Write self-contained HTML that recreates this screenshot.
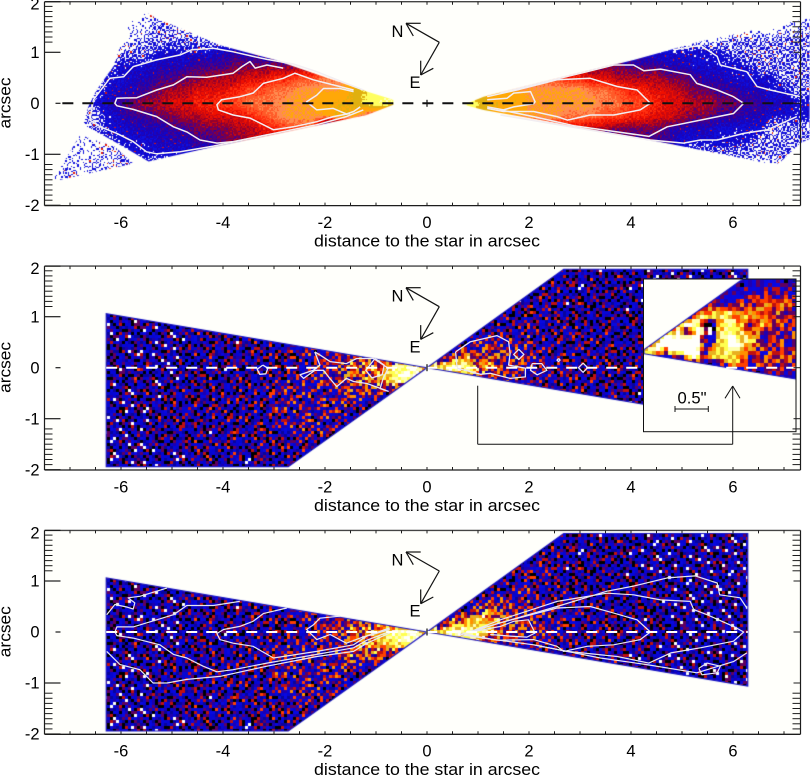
<!DOCTYPE html>
<html lang="en">
<head>
<meta charset="utf-8">
<title>Disk surface brightness maps</title>
<style>
html,body{margin:0;padding:0;background:#fff;}
#figure{position:relative;width:810px;height:777px;overflow:hidden;font-family:"Liberation Sans",sans-serif;}
.plot-bg{position:absolute;background:#fffffb;}
canvas{position:absolute;}
svg{position:absolute;left:0;top:0;}
svg text{font-family:"Liberation Sans",sans-serif;fill:#000;}
</style>
</head>
<body>
<div id="figure"></div>
<script>
/* ---------- data: grid levels (hex 0-f). Columns x=-7.5..7.5 step .25, rows y=2..-2 step .25 ---------- */
const panel1Levels = [
"0000000000 0000000000 0000000000 0 0000000000 0000000000 0000000000",
"0000000011 1100000000 0000000000 0 0000000000 0000000000 0000000011",
"0000000112 2110000000 0000000000 0 0000000000 0000000000 0000000112",
"0000000122 2222111000 0000000000 0 0000000000 0000000000 1112222222",
"1111112223 3333444333 3300000000 0 0000000000 0000033333 3332222222",
"1111123334 4455566666 6666600000 0 0000000000 6666655544 3333322222",
"1111233445 5667778899 aabbbbb000 0 0000aaaaaa 9988777766 5443333222",
"1112234456 778889aabb ccccdeefff f ffedcccccc ccbba99887 6655443322",
"1112345677 8899aabbbc ccdddeffff f fffedddccc cccbbaa988 7766554433",
"1112234556 6778889abc cccddba800 0 fffedccccc bbbaa99887 6655443333",
"1111233444 556667789a ab00000000 0 0000088888 8877666654 4433332222",
"1111123334 4455667777 0000000000 0 0000000000 0000555553 3333322222",
"1111112333 3333300000 0000000000 0 0000000000 0000000002 2222222222",
"1111212121 2100000000 0000000000 0 0000000000 0000000000 0000000210",
"1121110000 0000000000 0000000000 0 0000000000 0000000000 0000000000",
"0000000000 0000000000 0000000000 0 0000000000 0000000000 0000000000",
"0000000000 0000000000 0000000000 0 0000000000 0000000000 0000000000"
];
const panel2Levels = [
"5555555555 5555555555 5555555555 5 5555555555 5555555555 5555555555",
"5555555555 5555555555 5555555555 5 5555555556 6565655555 5555555555",
"5555555555 5555555555 5555555555 5 5555555566 6565655555 5555555555",
"5555555555 5555555555 5555555555 5 5555555666 5656555555 5555555555",
"5555555555 5565555565 5555555555 5 5555566666 6565656555 5555555555",
"5555555555 5566656566 6555555555 5 5555666766 6656565655 5555555555",
"5555555555 5565656666 7777555555 5 5557877766 6666656555 5555555555",
"5555565555 5566566666 7788999755 5 58b9a98776 6666565655 5555555555",
"5555565665 5656565666 6789abbdff d effcb98776 7666666565 5555555555",
"5555555655 5566566667 7789aabdff 8 99a9887766 6666566555 5555555555",
"5555555565 6656666677 7778998655 5 5555776666 6665655555 5555555555",
"5555555555 6566666677 7777765555 5 5555555555 5666656555 5555555555",
"5555555556 6656666667 7777655555 5 5555555555 5555555555 5555555555",
"5555555556 5665666667 7776555555 5 5555555555 5555555555 5555555555",
"5555555555 6566666666 6655555555 5 5555555555 5555555555 5555555555",
"5555555555 5566565666 6555555555 5 5555555555 5555555555 5555555555",
"5555555555 5555555555 5555555555 5 5555555555 5555555555 5555555555"
];
const panel3Levels = [
"5555555555 5555555555 5555555555 5 5555555555 5555555555 5555555555",
"5555555555 5555555555 5555555555 5 5555555556 6565655555 5555555555",
"5555555555 5555555555 5555555555 5 5555555666 6565655555 5555555555",
"5555555555 5555555555 5555555555 5 5555556676 5656555555 5555555555",
"5555555555 5565555565 5555555555 5 5555566766 6565656555 5555555555",
"5555555555 5566656566 6555555555 5 5555667766 6656565655 5555555555",
"5555555555 5565656666 7777655555 5 5558a98776 6666656555 5555555555",
"5555565555 5566566666 7788a99755 5 5abdca9877 6666565655 5555555555",
"5555565665 5656565666 6789abceff d dfffca9887 7666666565 5555555555",
"5555555655 5566566667 77789bcdef 9 abca988776 6666566555 5555555555",
"5555555565 6656666677 7778a9a755 5 5555776666 6665655555 5555555555",
"5555555555 6566666677 7777765555 5 5555555555 5666656555 5555555555",
"5555555556 6656666667 7777655555 5 5555555555 5555555555 5555555555",
"5555555556 5665666667 7776555555 5 5555555555 5555555555 5555555555",
"5555555555 6566666666 6655555555 5 5555555555 5555555555 5555555555",
"5555555555 5566565666 6555555555 5 5555555555 5555555555 5555555555",
"5555555555 5555555555 5555555555 5 5555555555 5555555555 5555555555"
];
/* inset grid: offsets from the star 0..2.3 step .1, rows 1.1..-.5 step .1 */
const insetLevels = [
"555555555555555565656556",
"555555555555555565756565",
"555555555555556567686776",
"555555555555566579897888",
"555555555578767889aa9a98",
"555555558abc9cbaaba9a987",
"55555559ddccdcabaa9a8987",
"555559ffe509cdca8aba9887",
"55559f56ff0bdccb9a878687",
"559ffffff60cdfebca689788",
"59fffffff76ccffcc9879879",
"fff6fffff6ccddcaa8798989",
"5555559ed6bcccc979889898",
"5555555555557aba78898988",
"555555555555555556787878",
"555555555555555555555555",
"555555555555555555555555"
];
/* footprint outlines, arcsec */
const panel1Footprints = [
 [[-.66,.07],[-1.18,.23],[-3.01,.86],[-4.06,1.14],[-5.3,1.67],[-5.79,1.93],[-6.18,1.9],[-5.95,1.31],[-6.15,.72],[-6.48,.26],[-6.64,-.07],[-6.74,-.42],[-6.48,-.56],[-6.08,-.78],[-5.46,-1.14],[-4.19,-.85],[-1.18,-.23],[-.66,-.03]],
 [[-6.8,-.62],[-6.12,-.85],[-5.76,-1.18],[-7.36,-1.54]],
 [[.72,-.03],[1.11,.13],[4.05,.85],[5.36,1.21],[7.32,1.63],[7.5,1.67],[7.5,-.7],[7.32,-.78],[6.9,-1.18],[6.7,-1.18],[4.38,-.72],[2.75,-.42],[1.11,-.13]]
];
const wedgeFootprints = [
 [[0,0],[-6.29,1.06],[-6.29,-1.94],[-2.72,-1.94]],
 [[0,0],[2.68,1.93],[6.29,1.93],[6.29,-1.06]]
];
const insetFootprints = [
 [[0,.02],[1.44,1.05],[1.5,1.08],[2.28,1.08],[2.28,-.42],[0,-.04]]
];
/* contours, arcsec: each is a list of [x,y] */
const panel1Contours = [
 [[-1.25,.26],[-1.58,.39],[-2.16,.62],[-2.62,.77],[-3.14,.86],[-3.41,.92],[-3.8,1.01],[-4.19,1.08],[-4.61,1.05],[-4.84,.95],[-5.3,.85],[-5.76,.72],[-5.95,.52],[-6.22,.49],[-6.54,.07],[-6.61,-.33],[-6.41,-.46],[-6.08,-.59],[-5.76,-.75],[-5.5,-.95],[-5.3,-.99],[-4.84,-.95],[-4.19,-.84],[-3.14,-.62],[-2.16,-.42],[-1.58,-.26],[-1.25,-.13]],
 [[-2.82,.69],[-3.14,.75],[-3.37,.69],[-3.47,.82],[-3.63,.72],[-3.8,.59],[-4.32,.51],[-4.71,.52],[-4.97,.36],[-5.3,.26],[-5.69,.11],[-6.08,.1],[-6.12,0],[-6.08,-.05],[-5.76,-.12],[-5.3,-.26],[-4.97,-.46],[-4.71,-.56],[-4.45,-.72],[-4.12,-.78],[-3.8,-.75],[-3.14,-.62]],
 [[-1.44,.26],[-1.84,.36],[-2.23,.46],[-2.59,.59],[-2.82,.49],[-3.21,.39],[-3.41,.2],[-3.67,.13],[-4.03,.07],[-4.12,-.03],[-4.09,-.13],[-3.8,-.23],[-3.47,-.29],[-3.01,-.52],[-2.62,-.46],[-2.16,-.36],[-1.84,-.26],[-1.51,-.2]],
 [[-1.44,.23],[-1.71,.29],[-2.03,.29],[-2.16,.16],[-2.36,.03],[-2.16,-.13],[-1.84,-.1],[-1.58,-.21],[-1.44,-.16],[-1.31,-.07]],
 [[1.44,.2],[2.48,.46],[3.14,.62],[3.66,.75],[4.05,.75],[4.25,.64],[4.58,.67],[5.16,.56],[5.29,.39],[5.69,.26],[6.01,.13],[6.21,0],[6.01,-.2],[5.36,-.33],[4.71,-.46],[4.35,-.65],[3.73,-.56],[2.88,-.44],[2.09,-.26],[1.44,-.13]],
 [[1.18,.13],[1.76,.26],[2.55,.46],[3.2,.49],[3.73,.33],[4.12,.26],[4.38,0],[4.18,-.13],[3.66,-.23],[3.2,-.23],[2.75,-.33],[2.55,-.26],[2.09,-.16],[1.5,-.16],[1.18,-.1]],
 [[1.18,.07],[1.57,.1],[1.7,.2],[2.03,.23],[2.12,.03],[2.09,-.01],[1.7,-.07],[1.5,-.13],[1.18,-.07]],
 [[4.84,1.05],[5.36,1.14],[5.69,.92],[5.75,.75],[6.27,.62],[6.47,.33],[6.73,.26],[7.32,.13]],
 [[7.25,-.26],[6.67,-.52],[6.21,-.59],[5.69,-.72],[5.36,-.72],[5.03,-.78],[4.38,-.72],[3.4,-.56],[1.44,-.23]]
];
const panel2Contours = [
 [[-2.2,.31],[-2.1,.25],[-1.9,.12],[-1.58,.08],[-1.38,.18],[-1.05,.18],[-.76,-.01],[-.86,-.21],[-.92,-.41],[-.76,-.46],[-1.18,-.31],[-1.44,-.27],[-1.58,-.21],[-1.77,-.37],[-1.93,-.18],[-2.03,-.05],[-2.2,-.05],[-2.42,-.21],[-2.49,-.14],[-2.23,-.05],[-2.1,.05],[-2.2,.31]],
 [[-3.22,.05],[-3.12,-.01],[-3.16,-.12],[-3.28,-.13],[-3.33,-.03],[-3.22,.05]],
 [[-1.02,.18],[-.84,.05],[-.88,-.14],[-1.08,-.2],[-1.2,-.05],[-1.02,.18]],
 [[.56,.31],[.85,.51],[1.37,.63],[1.6,.51],[1.63,.28],[1.6,.05],[1.93,-.01],[1.93,-.18],[1.63,-.21],[1.24,-.11],[1.05,-.13],[.59,-.01],[.56,.31]],
 [[2.06,.08],[2.25,.08],[2.35,-.05],[2.16,-.14],[2.03,-.05],[2.06,.08]],
 [[3.06,.09],[3.15,0],[3.06,-.09],[2.97,0],[3.06,.09]],
 [[1.8,.36],[1.9,.26],[1.8,.16],[1.7,.26],[1.8,.36]],
 [[2.58,.18],[2.61,.15],[2.58,.12],[2.55,.15],[2.58,.18]]
];
const panel3Contours = [
 [[-5.1,.86],[-5.63,.7],[-5.86,.67],[-5.73,.57],[-5.76,.45],[-5.89,.49],[-6.12,.54],[-6.28,.34]],
 [[-6.28,-.38],[-6.02,-.64],[-5.63,-.74],[-5.37,-1],[-5.1,-1],[-4.71,-.93],[-4.06,-.87],[-3.14,-.67],[-2.16,-.48],[-1.44,-.38],[-1.18,-.22],[-.73,-.02]],
 [[-3.67,.6],[-4.19,.52],[-4.71,.52],[-4.97,.34],[-5.3,.24],[-5.76,.1],[-6.08,.1],[-6.12,0],[-6.08,-.07],[-5.76,-.12],[-5.24,-.25],[-4.97,-.44],[-4.71,-.51],[-4.39,-.67],[-4.12,-.78],[-3.8,-.74],[-3.14,-.61],[-2.16,-.44],[-1.44,-.31],[-1.18,-.16],[-.73,.01]],
 [[-2.75,.47],[-3.21,.36],[-3.41,.21],[-3.67,.11],[-3.99,.05],[-4.12,-.03],[-4.06,-.15],[-3.8,-.22],[-3.41,-.28],[-3.01,-.51],[-2.16,-.38],[-1.44,-.25],[-1.18,-.08],[-.73,.05]],
 [[-1.71,.31],[-2.1,.27],[-2.23,.14],[-2.36,.05],[-2.16,-.15],[-1.9,-.05],[-1.58,-.22],[-1.31,-.12],[-.73,.08]],
 [[.65,-.05],[1.44,.18],[2.55,.5],[3.53,.8],[4.05,.9],[4.71,1.06],[5.26,1.1],[5.69,.96],[5.74,.73],[6.14,.67],[6.27,.47]],
 [[6.27,-.41],[6.01,-.58],[5.29,-.8],[4.31,-.64],[3.4,-.51],[2.09,-.25],[1.11,-.12],[.65,-.05]],
 [[.78,-.02],[1.44,.24],[2.55,.6],[3.53,.76],[4.05,.73],[4.58,.63],[5.16,.6],[5.23,.44],[5.49,.34],[6.01,.11],[6.21,0],[6.01,-.18],[5.36,-.31],[4.78,-.41],[4.35,-.61],[3.73,-.48],[2.75,-.38],[2.09,-.25]],
 [[.78,-.02],[1.44,.18],[2.55,.47],[3.2,.5],[3.66,.37],[4.12,.24],[4.38,0],[4.18,-.15],[3.66,-.25],[3.14,-.28],[2.68,-.38],[2.55,-.28],[2.09,-.15],[1.37,-.16],[.78,-.05]],
 [[.78,-.02],[1.44,.11],[1.7,.21],[1.99,.24],[2.12,-.02],[1.96,-.1],[1.63,-.08],[1.24,-.05]],
 [[5.33,-.71],[5.49,-.61],[5.75,-.67],[5.69,-.8],[5.39,-.84],[5.33,-.71]]
];
const xTickLabels = [-6,-4,-2,0,2,4,6];
const yTickLabels = [2,1,0,-1,-2];
const xTitleText = "distance to the star in arcsec";
const yTitleText = "arcsec";

/* ---------- style: colour ramps and a fixed halftone tile used only to texture cell levels ---------- */
const rampSmooth = [null,null,"#1010dc","#1006cc","#2402a8","#500080","#900030","#c80810","#f01000","#ff3010","#ff5a28","#ff8c50","#ffa808","#e0b010","#ffff60","#ffffc0"];
const rampNoisy = [null,"#000000","#000000","#0606d8","#0808e0","#0606d0","#08049c","#1c00b0","#600060","#c01010","#ff4000","#ff9000","#e8b020","#ffff50","#ffffb0","#fffffb"];
const rampInset = [null,"#000000","#000000","#0808e0","#0808e8","#0c06d8","#2000b0","#600060","#c01010","#ff4000","#ff9000","#e8b020","#ffff50","#ffffb0","#fffffb","#fffffb"];
const halftone = ["3a7f0c92e6b1d458","e15b84d07f2ac369","96c23fa51e8d074b","0d48e7b6c392fa15","b2f9165d04a7e83c","7c30ea8b2f6159d4","451ed9c7b80a36f2","a86f37024de9c1b5","2eb4905cf17d68a3","d7163ca8e5b042f9","f09ab26417c3de58","1c85df3b96ea2074","6b3e8104ad5f97c2","9472cfe06b381da5","c8ad5971f2047e3b","50e1b6d8437ca92f"];

/* ---------- axis functions ---------- */
const X_ZERO = 427, UNIT = 51, Y_ZERO = 103.3;
const panelShift = [0, 264.4, 528.7];
const xPx = v => X_ZERO + UNIT * v;
const yPx = (p, v) => Y_ZERO + panelShift[p] - UNIT * v;
const PLOT_L = 44.5, PLOT_R = 800.5, PLOT_T = 1.7, PLOT_B = 205.6;

const fig = document.getElementById('figure');
const NS = 'http://www.w3.org/2000/svg';

function gridLevel(rows, col, row) {
  const c0 = Math.max(0, Math.floor(col)), r0 = Math.max(0, Math.floor(row));
  const r1 = Math.min(rows.length - 1, r0 + 1), r00 = Math.min(rows.length - 1, r0);
  const fc = col - c0, fr = row - r0;
  const at = (r, c) => { const n = parseInt(rows[r].replace(/ /g, '').charAt(c), 16); return isNaN(n) ? 0 : n; };
  return (at(r00, c0) * (1 - fc) + at(r00, c0 + 1) * fc) * (1 - fr) + (at(r1, c0) * (1 - fc) + at(r1, c0 + 1) * fc) * fr;
}

function paintHeat(opts) {
  const cv = document.createElement('canvas');
  
  
  cv.width = opts.w; cv.height = opts.h;
  cv.style.left = opts.left + 'px'; cv.style.top = opts.top + 'px';
  fig.appendChild(cv);
  const ctx = cv.getContext('2d');
  if (opts.fill) { ctx.fillStyle = opts.fill; ctx.fillRect(0, 0, opts.w, opts.h); }
  const trace = () => {
    ctx.beginPath();
    opts.footprints.forEach(poly => {
      poly.forEach((pt, i) => {
        const px = opts.toPx(pt[0], pt[1]);
        if (i === 0) ctx.moveTo(px[0] - opts.left, px[1] - opts.top);
        else ctx.lineTo(px[0] - opts.left, px[1] - opts.top);
      });
      ctx.closePath();
    });
  };
  ctx.save();
  trace();
  ctx.clip();
  const b = opts.block;
  for (let by = 0; by * b < opts.h; by++) {
    const py0 = Math.round(by * b), py1 = Math.round((by + 1) * b);
    for (let bx = 0; bx * b < opts.w; bx++) {
      const px0 = Math.round(bx * b), px1 = Math.round((bx + 1) * b);
      const cell = opts.toCell(opts.left + (bx + .5) * b, opts.top + (by + .5) * b);
      if (cell[0] < 0 || cell[1] < 0) continue;
      const v = gridLevel(opts.levels, cell[0], cell[1]);
      const tx = (bx + 5 * Math.floor(by / 16) + 7 * Math.floor(bx / 32)) % 16;
      const ty = (by + 3 * Math.floor(bx / 16) + 11 * Math.floor(by / 48)) % 16;
      const h = parseInt(halftone[ty].charAt(tx), 16);
      const idx = Math.floor(v + opts.amp(v) * ((h + .5) / 16 - .5));
      let col = opts.ramp[Math.max(0, Math.min(15, idx))];
      if (opts.specks && v < 4.5 && v > 1 && h === 15 && (bx + by) % 3 === 0) col = "#e01808";
      if (!col) continue;
      ctx.fillStyle = col;
      ctx.fillRect(px0, py0, px1 - px0, py1 - py0);
    }
  }
  ctx.restore();
  if (opts.edge) {
    trace();
    ctx.strokeStyle = opts.edge;
    ctx.lineWidth = 1.1;
    ctx.stroke();
  }
}

/* backgrounds */
panelShift.forEach((s, p) => {
  const bg = document.createElement('div');
  bg.className = 'plot-bg';
  
  
  bg.style.cssText = 'left:' + PLOT_L + 'px;top:' + (PLOT_T + s) + 'px;width:' + (PLOT_R - PLOT_L) + 'px;height:' + (PLOT_B - PLOT_T) + 'px';
  fig.appendChild(bg);
});

/* heatmaps */
const cellFor = p => (px, py) => {
  const x = (px - X_ZERO) / UNIT, y = (Y_ZERO + panelShift[p] - py) / UNIT;
  return [(x + 7.5) / .25, (2 - y) / .25];
};
const ampSmooth = v => v < 2.5 ? 3.2 : v < 5 ? 2.4 : v < 9 ? 2 : v < 12 ? 1.2 : .4;
const ampNoisy = v => v < 8 ? 9 : v < 12 ? 7 : 3;
paintHeat({name:'heatmap-panel-1', levels:panel1Levels, footprints:panel1Footprints, ramp:rampSmooth, amp:ampSmooth, block:1.33, specks:true,
  left:44, top:2, w:766, h:204, toPx:(x,y)=>[xPx(x),yPx(0,y)], toCell:cellFor(0)});
paintHeat({name:'heatmap-panel-2', levels:panel2Levels, footprints:wedgeFootprints, ramp:rampNoisy, amp:ampNoisy, block:3, edge:'#1410c0',
  left:44, top:Math.round(2+panelShift[1]), w:756, h:204, toPx:(x,y)=>[xPx(x),yPx(1,y)], toCell:cellFor(1)});
paintHeat({name:'heatmap-panel-3', levels:panel3Levels, footprints:wedgeFootprints, ramp:rampNoisy, amp:ampNoisy, block:3, edge:'#1410c0',
  left:44, top:Math.round(2+panelShift[2]), w:756, h:204, toPx:(x,y)=>[xPx(x),yPx(2,y)], toCell:cellFor(2)});

/* inset */
const INSET_X = 644, INSET_Y = 351, INSET_UNIT = 66.7;
const insetXPx = v => INSET_X + INSET_UNIT * v;
const insetYPx = v => INSET_Y - INSET_UNIT * v;
paintHeat({name:'inset-heatmap', levels:insetLevels, footprints:insetFootprints, ramp:rampInset, amp:v=>v<8?6:v<12?4:2, block:4, fill:'#fffffb', edge:'#1410c0',
  left:644, top:279, w:152, h:153, toPx:(x,y)=>[insetXPx(x),insetYPx(y)],
  toCell:(px,py)=>[(px-INSET_X)/INSET_UNIT/.1,(1.1-(INSET_Y-py)/INSET_UNIT)/.1]});

/* vector overlay */
const svg = document.createElementNS(NS, 'svg');
svg.setAttribute('width', '810'); svg.setAttribute('height', '777');


fig.appendChild(svg);

function line(parent, name, x1, y1, x2, y2, stroke, w, dash) {
  const el = document.createElementNS(NS, 'line');
  
  
  el.setAttribute('x1', x1); el.setAttribute('y1', y1); el.setAttribute('x2', x2); el.setAttribute('y2', y2);
  el.setAttribute('stroke', stroke); el.setAttribute('stroke-width', w);
  if (dash) el.setAttribute('stroke-dasharray', dash);
  parent.appendChild(el);
  return el;
}
function label(parent, name, x, y, str, size, anchor, fit, rot) {
  const el = document.createElementNS(NS, 'text');
  
  
  el.setAttribute('x', x); el.setAttribute('y', y);
  el.setAttribute('font-size', size);
  el.setAttribute('text-anchor', anchor);
  if (fit) { el.setAttribute('textLength', fit); el.setAttribute('lengthAdjust', 'spacingAndGlyphs'); }
  if (rot) el.setAttribute('transform', 'rotate(-90 ' + x + ' ' + y + ')');
  el.textContent = str;
  parent.appendChild(el);
  return el;
}
function polyline(parent, name, pts, toPx, stroke, w) {
  const el = document.createElementNS(NS, 'polyline');
  
  
  el.setAttribute('points', pts.map(p => { const q = toPx(p[0], p[1]); return q[0].toFixed(1) + ',' + q[1].toFixed(1); }).join(' '));
  el.setAttribute('fill', 'none');
  el.setAttribute('stroke', stroke);
  el.setAttribute('stroke-width', w);
  el.setAttribute('stroke-linejoin', 'round');
  parent.appendChild(el);
}

const contourSets = [panel1Contours, panel2Contours, panel3Contours];
const contourColor = ['#f2eef2', '#e8e4f4', '#e8e6f2'];
const contourWidth = [1.5, 1.3, 1.2];
const axisInk = '#1c1c1c';

/* inset frame */
const insetFrame = document.createElementNS(NS, 'rect');


insetFrame.setAttribute('x', 643.5); insetFrame.setAttribute('y', 279);
insetFrame.setAttribute('width', 152.5); insetFrame.setAttribute('height', 152.7);
insetFrame.setAttribute('fill', 'none'); insetFrame.setAttribute('stroke', '#111'); insetFrame.setAttribute('stroke-width', 1);

panelShift.forEach((s, p) => {
  const g = document.createElementNS(NS, 'g');
  
  
  svg.appendChild(g);
  const top = PLOT_T + s, bot = PLOT_B + s;

  contourSets[p].forEach((c, i) => polyline(g, 'contour-' + (i + 1), c, (x, y) => [xPx(x), yPx(p, y)], contourColor[p], contourWidth[p]));

  /* midplane */
  if (p === 0) line(g, 'midplane-dashed-line', xPx(-7.15), yPx(0, 0), PLOT_R, yPx(0, 0), '#111', 2, '11 9');
  else line(g, 'midplane-dashed-line', xPx(-6.29), yPx(p, 0), p === 1 ? 796 : xPx(6.29), yPx(p, 0), '#fffffb', 2, '11 9');
  line(g, 'star-position-mark', xPx(0), yPx(p, 0) - 3.5, xPx(0), yPx(p, 0) + 3.5, '#111', 1.2);

  /* frame */
  line(g, 'axis-top', PLOT_L, top, PLOT_R, top, '#444', 1.4);
  line(g, 'axis-bottom', PLOT_L, bot, PLOT_R, bot, axisInk, 1.3);
  line(g, 'axis-left', PLOT_L, top, PLOT_L, bot, axisInk, 1.2);
  line(g, 'axis-right', PLOT_R, top, PLOT_R, bot, axisInk, 1.2);

  /* x ticks */
  for (let k = -14; k <= 14; k++) {
    const t = k * .5;
    line(g, 'x-tick-bottom', xPx(t), bot, xPx(t), bot - 3, axisInk, 1);
    line(g, 'x-tick-top', xPx(t), top, xPx(t), top + 3, axisInk, 1);
  }
  /* y ticks */
  for (let k = 12; k <= 19; k++) {
    [1, -1].forEach(sign => {
      const yy = yPx(p, sign * k / 10);
      line(g, 'y-minor-tick-left', PLOT_L, yy, PLOT_L + 8, yy, axisInk, 1);
      line(g, 'y-minor-tick-right', PLOT_R - 8, yy, PLOT_R, yy, axisInk, 1);
    });
  }
  yTickLabels.forEach(v => {
    const yy = Math.min(Math.max(yPx(p, v), top), bot);
    const tickStart = v === 0 ? PLOT_L + 11 : PLOT_L;
    line(g, 'y-major-tick-left', tickStart, yy, PLOT_L + 16, yy, axisInk, 1.2);
    if (Math.abs(v) < 2) line(g, 'y-major-tick-right', PLOT_R - 7, yy, PLOT_R, yy, axisInk, 1);
    label(g, 'y-tick-label', 39.5, yPx(p, v) + (v === 2 ? 8.4 : 5.6), String(v), 16.5, 'end');
  });
  xTickLabels.forEach(v => label(g, 'x-tick-label', xPx(v), 228 + s, String(v), 16.5, 'middle'));
  label(g, 'x-axis-title', 427, 246.5 + s, xTitleText, 17, 'middle', 226);
  label(g, 'y-axis-title', 10.5, 103 + s, yTitleText, 17, 'middle', 51, true);

  /* compass */
  const c = document.createElementNS(NS, 'g');
  
  
  g.appendChild(c);
  line(c, 'north-arrow-shaft', 439.3, 42.3 + s, 406, 23.3 + s, '#111', 1.2);
  line(c, 'north-arrow-head', 406, 23.3 + s, 420.7, 23.3 + s, '#111', 1.2);
  line(c, 'north-arrow-head', 406, 23.3 + s, 413.3, 36 + s, '#111', 1.2);
  line(c, 'east-arrow-shaft', 439.3, 42.3 + s, 420.7, 75 + s, '#111', 1.2);
  line(c, 'east-arrow-head', 420.7, 75 + s, 420.7, 60.7 + s, '#111', 1.2);
  line(c, 'east-arrow-head', 420.7, 75 + s, 433.3, 68.3 + s, '#111', 1.2);
  label(c, 'north-label', 397.5, 37 + s, 'N', 16.5, 'middle');
  label(c, 'east-label', 415, 88 + s, 'E', 16.5, 'middle');
});

/* inset annotation */
const ann = document.createElementNS(NS, 'g');


svg.appendChild(ann);
ann.appendChild(insetFrame);
line(ann, 'zoom-connector', 477.7, 385.7, 477.7, 444.3, '#111', 1);
line(ann, 'zoom-connector', 477.7, 444.3, 732.7, 444.3, '#111', 1);
line(ann, 'zoom-connector', 732.7, 444.3, 732.7, 386, '#111', 1);
line(ann, 'zoom-arrow-head', 732.7, 386, 725, 398.3, '#111', 1);
line(ann, 'zoom-arrow-head', 732.7, 386, 740, 398.3, '#111', 1);
line(ann, 'scale-bar', 675, 409, 708.3, 409, '#111', 1);
line(ann, 'scale-bar-cap', 675, 406, 675, 412, '#111', 1);
line(ann, 'scale-bar-cap', 708.3, 406, 708.3, 412, '#111', 1);
label(ann, 'scale-bar-label', 692, 403.3, '0.5"', 17, 'middle', 29);
</script>
</body>
</html>
